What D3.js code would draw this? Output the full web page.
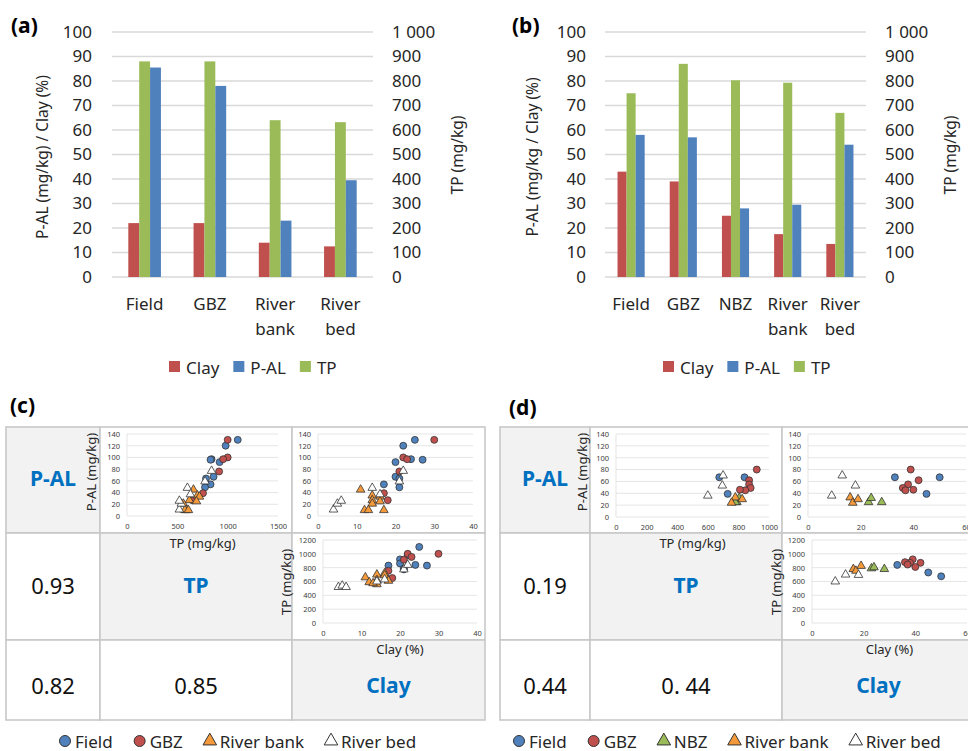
<!DOCTYPE html>
<html>
<head>
<meta charset="utf-8">
<script src="https://cdn.jsdelivr.net/npm/d3@7"></script>
<style>
  body { margin: 0; background: #fff; }
  svg { font-family: "Noto Sans", "Open Sans", sans-serif; }
</style>
</head>
<body>
<svg id="chart" width="968" height="751"></svg>
<script>
// Données des histogrammes (a) et (b)
const categoriesA = ["Field", "GBZ", "River bank", "River bed"];
const clayA = [22, 22, 14, 12.5];
const palA = [85.5, 78, 23, 39.5];
const tpA = [880, 880, 640, 632];

const categoriesB = ["Field", "GBZ", "NBZ", "River bank", "River bed"];
const clayB = [43, 39, 25, 17.5, 13.5];
const palB = [58, 57, 28, 29.5, 54];
const tpB = [750, 870, 803, 793, 670];

const leftTicks = [0, 10, 20, 30, 40, 50, 60, 70, 80, 90, 100];
const tpTicks = [0, 100, 200, 300, 400, 500, 600, 700, 800, 900, 1000];
const tpTickLabels = ["0", "100", "200", "300", "400", "500", "600", "700", "800", "900", "1 000"];

// Nuages de points : [Clay (%), TP (mg/kg), P-AL (mg/kg)]
const fieldC = [[25, 1100, 130], [22, 980, 120], [24, 840, 97], [27, 830, 96], [20, 920, 92],
                [20, 860, 67], [21, 785, 64], [17, 830, 54], [21, 775, 49]];
const gbzC = [[30, 1000, 130], [22, 1000, 100], [23, 955, 97], [21, 915, 76], [17, 755, 39], [18, 650, 27]];
const bankC = [[11, 660, 45], [14, 700, 35], [14, 620, 27], [14, 560, 21], [12, 590, 10],
               [13, 575, 10], [16, 720, 33], [16, 690, 25], [17, 610, 10]];
const bedC = [[4, 520, 11], [5, 540, 21], [6, 520, 26], [14, 600, 48], [16, 630, 37], [21, 775, 59], [22, 840, 77]];

const fieldD = [[33, 840, 67], [45, 730, 39], [50, 675, 67]];
const gbzD = [[39, 920, 80], [42, 870, 62], [38, 870, 55], [36, 880, 49], [37, 845, 45], [40, 810, 46]];
const nbzD = [[23, 790, 25], [24, 805, 32], [28, 780, 25]];
const bankD = [[16, 780, 33], [17, 755, 24], [19, 825, 30]];
const bedD = [[9, 600, 36], [13, 700, 70], [18, 695, 53]];

// Coefficients de corrélation affichés
const corrC = ["0.93", "0.82", "0.85"];
const corrD = ["0.19", "0.44", "0. 44"];

const palTicks = [0, 20, 40, 60, 80, 100, 120, 140];
const tpScatterTicks = [0, 200, 400, 600, 800, 1000, 1200];

const colors = { "Clay": "#c0504d", "P-AL": "#4f81bd", "TP": "#9bbb59" };
const barOrder = ["Clay", "TP", "P-AL"];
const legendOrder = ["Clay", "P-AL", "TP"];
const textColor = "#262626";

const svg = d3.select("#chart");

// Histogramme à deux axes
function drawBars(cfg) {
  const g = svg.append("g");
  const x = d3.scaleBand().domain(cfg.cats).range([cfg.left, cfg.right])
    .paddingInner(cfg.pad).paddingOuter(cfg.pad / 2);
  const xs = d3.scaleBand().domain(barOrder).range([0, x.bandwidth()]);
  const y = d3.scaleLinear().domain([0, 100]).range([277, 32]);
  const y2 = d3.scaleLinear().domain([0, 1000]).range([277, 32]);

  g.append("g").selectAll("line").data(leftTicks).join("line")
    .attr("x1", cfg.left).attr("x2", cfg.right)
    .attr("y1", d => y(d)).attr("y2", d => y(d))
    .attr("stroke", "#d9d9d9").attr("stroke-width", 1.3);

  const rows = [];
  cfg.cats.forEach((c, i) => {
    rows.push({ cat: c, s: "Clay", v: y(cfg.clay[i]) });
    rows.push({ cat: c, s: "TP", v: y2(cfg.tp[i]) });
    rows.push({ cat: c, s: "P-AL", v: y(cfg.pal[i]) });
  });
  g.append("g").selectAll("rect").data(rows).join("rect")
    .attr("x", d => x(d.cat) + xs(d.s))
    .attr("width", xs.bandwidth())
    .attr("y", d => d.v)
    .attr("height", d => y(0) - d.v)
    .attr("fill", d => colors[d.s]);

  const axL = g.append("g").attr("transform", "translate(" + cfg.left + ",0)")
    .call(d3.axisLeft(y).tickValues(leftTicks).tickSize(0).tickPadding(cfg.left - cfg.labelL));
  axL.select(".domain").remove();
  axL.attr("font-family", null).attr("font-size", 17).attr("color", textColor);

  const axR = g.append("g").attr("transform", "translate(" + cfg.right + ",0)")
    .call(d3.axisRight(y2).tickValues(tpTicks).tickFormat((d, i) => tpTickLabels[i])
      .tickSize(0).tickPadding(cfg.labelR - cfg.right));
  axR.select(".domain").remove();
  axR.attr("font-family", null).attr("font-size", 17).attr("color", textColor);

  // libellés des catégories (sur deux lignes si besoin)
  cfg.cats.forEach(c => {
    c.split(" ").forEach((w, k) => {
      g.append("text").attr("x", x(c) + x.bandwidth() / 2).attr("y", 303 + k * 25)
        .attr("text-anchor", "middle").attr("dominant-baseline", "central")
        .attr("font-size", 17).attr("fill", textColor).text(w);
    });
  });

  g.append("text").attr("transform", "translate(" + cfg.titleL + ",157) rotate(-90)")
    .attr("text-anchor", "middle").attr("dominant-baseline", "central")
    .attr("font-size", 15.5).attr("fill", textColor).text(cfg.leftTitle);
  g.append("text").attr("transform", "translate(" + cfg.titleR + ",155) rotate(-90)")
    .attr("text-anchor", "middle").attr("dominant-baseline", "central")
    .attr("font-size", 15.5).attr("fill", textColor).text("TP (mg/kg)");

  g.append("text").attr("x", cfg.tagX).attr("y", 25).attr("dominant-baseline", "central")
    .attr("font-size", 21).attr("font-weight", "bold").attr("fill", "#000").text(cfg.tag);

  let lx = cfg.legendX;
  legendOrder.forEach(s => {
    g.append("rect").attr("x", lx).attr("y", 361).attr("width", 11).attr("height", 11).attr("fill", colors[s]);
    const t = g.append("text").attr("x", lx + 17).attr("y", 367).attr("dominant-baseline", "central")
      .attr("font-size", 17).attr("fill", textColor).text(s);
    lx += 17 + t.node().getComputedTextLength() + 14;
  });
}

drawBars({ cats: categoriesA, clay: clayA, pal: palA, tp: tpA, left: 112, right: 373, pad: 0.5,
  labelL: 92, labelR: 392, titleL: 42, titleR: 457, leftTitle: "P-AL (mg/kg) / Clay (%)",
  tag: "(a)", tagX: 11, legendX: 169 });
drawBars({ cats: categoriesB, clay: clayB, pal: palB, tp: tpB, left: 605, right: 866, pad: 0.48,
  labelL: 586, labelR: 885, titleL: 532, titleR: 950, leftTitle: "P-AL (mg/kg / Clay (%)",
  tag: "(b)", tagX: 512, legendX: 663 });

// Matrice de corrélation
const blue = "#0070c0";
const circleD = d3.symbol(d3.symbolCircle, 38)();
const triD = d3.symbol(d3.symbolTriangle, 32)();

function drawTable(cols, rows) {
  const g = svg.append("g");
  for (let r = 0; r < 3; r++) {
    for (let c = 0; c < 3; c++) {
      g.append("rect").attr("x", cols[c]).attr("y", rows[r])
        .attr("width", cols[c + 1] - cols[c]).attr("height", rows[r + 1] - rows[r])
        .attr("fill", r === c ? "#f2f2f2" : "#fff")
        .attr("stroke", "#c8c8c8").attr("stroke-width", 1.6);
    }
  }
}

function drawScatter(cfg, groups) {
  const g = svg.append("g");
  const x = d3.scaleLinear().domain(cfg.xDom).range(cfg.xRange);
  const y = d3.scaleLinear().domain(cfg.yDom).range(cfg.yRange);

  g.append("g").selectAll("line").data(cfg.yTicks).join("line")
    .attr("x1", cfg.xRange[0]).attr("x2", cfg.xRange[1])
    .attr("y1", d => y(d)).attr("y2", d => y(d))
    .attr("stroke", "#dedede").attr("stroke-width", 0.8);
  g.append("line").attr("x1", cfg.xRange[0]).attr("x2", cfg.xRange[0])
    .attr("y1", cfg.yRange[0]).attr("y2", cfg.yRange[1])
    .attr("stroke", "#dedede").attr("stroke-width", 0.8);

  const ax = g.append("g").attr("transform", "translate(0," + cfg.yRange[0] + ")")
    .call(d3.axisBottom(x).tickValues(cfg.xTicks).tickFormat(d3.format("d")).tickSize(0).tickPadding(8));
  ax.select(".domain").remove();
  ax.attr("font-family", null).attr("font-size", 7.5).attr("color", "#404040");

  const ay = g.append("g").attr("transform", "translate(" + cfg.xRange[0] + ",0)")
    .call(d3.axisLeft(y).tickValues(cfg.yTicks).tickFormat(d3.format("d")).tickSize(0).tickPadding(7));
  ay.select(".domain").remove();
  ay.attr("font-family", null).attr("font-size", 7.5).attr("color", "#404040");

  groups.forEach(gr => {
    g.append("g").selectAll("path").data(gr.data).join("path")
      .attr("transform", d => "translate(" + x(d[cfg.xi]) + "," + y(d[cfg.yi]) + ")")
      .attr("d", gr.shape === "circle" ? circleD : triD)
      .attr("fill", gr.color).attr("stroke", "#333").attr("stroke-width", 0.8);
  });

  if (cfg.xTitle) {
    g.append("text").attr("x", (cfg.xRange[0] + cfg.xRange[1]) / 2).attr("y", cfg.xTitleY)
      .attr("text-anchor", "middle").attr("dominant-baseline", "central")
      .attr("font-size", 13).attr("fill", textColor).text(cfg.xTitle);
  }
  if (cfg.yTitle) {
    g.append("text").attr("transform", "translate(" + cfg.yTitleX + "," + cfg.yTitleY + ") rotate(-90)")
      .attr("text-anchor", "middle").attr("dominant-baseline", "central")
      .attr("font-size", 13).attr("fill", textColor).text(cfg.yTitle);
  }
}

function cellText(x, y, txt, isLabel) {
  svg.append("text").attr("x", x).attr("y", y)
    .attr("text-anchor", "middle").attr("dominant-baseline", "central")
    .attr("font-size", isLabel ? 21 : 22).attr("font-weight", isLabel ? "bold" : "normal")
    .attr("fill", isLabel ? blue : "#111").text(txt);
}

function drawLegend(x0, items) {
  let lx = x0;
  items.forEach(it => {
    svg.append("path").attr("transform", "translate(" + lx + ",741)")
      .attr("d", d3.symbol(it.shape === "circle" ? d3.symbolCircle : d3.symbolTriangle, it.shape === "circle" ? 95 : 80)())
      .attr("fill", it.color).attr("stroke", "#333").attr("stroke-width", 1);
    const t = svg.append("text").attr("x", lx + 10).attr("y", 741).attr("dominant-baseline", "central")
      .attr("font-size", 17).attr("fill", textColor).text(it.name);
    lx += 10 + t.node().getComputedTextLength() + 27;
  });
}

const groupsC = [
  { name: "Field", data: fieldC, color: "#4f81bd", shape: "circle" },
  { name: "GBZ", data: gbzC, color: "#c0504d", shape: "circle" },
  { name: "River bank", data: bankC, color: "#f59a3a", shape: "tri" },
  { name: "River bed", data: bedC, color: "#fff", shape: "tri" }
];
const groupsD = [
  { name: "Field", data: fieldD, color: "#4f81bd", shape: "circle" },
  { name: "GBZ", data: gbzD, color: "#c0504d", shape: "circle" },
  { name: "NBZ", data: nbzD, color: "#9bbb59", shape: "tri" },
  { name: "River bank", data: bankD, color: "#f59a3a", shape: "tri" },
  { name: "River bed", data: bedD, color: "#fff", shape: "tri" }
];

// (c)
const colsC = [6, 100, 292, 485];
const colsD = [500, 590, 782, 975];
const rowsT = [427, 533, 640, 720];
drawTable(colsC, rowsT);
drawTable(colsD, rowsT);

drawScatter({ xDom: [0, 1500], xRange: [127, 278], xTicks: [0, 500, 1000, 1500], xi: 1,
  yDom: [0, 140], yRange: [516, 434], yTicks: palTicks, yi: 2,
  xTitle: "TP (mg/kg)", xTitleY: 543, yTitle: "P-AL (mg/kg)", yTitleX: 91, yTitleY: 472 }, groupsC);
drawScatter({ xDom: [0, 40], xRange: [318, 473], xTicks: [0, 10, 20, 30, 40], xi: 0,
  yDom: [0, 140], yRange: [516, 434], yTicks: palTicks, yi: 2 }, groupsC);
drawScatter({ xDom: [0, 40], xRange: [323, 477], xTicks: [0, 10, 20, 30, 40], xi: 0,
  yDom: [0, 1200], yRange: [623, 540], yTicks: tpScatterTicks, yi: 1,
  xTitle: "Clay (%)", xTitleY: 649, yTitle: "TP (mg/kg)", yTitleX: 286, yTitleY: 582 }, groupsC);

// (d)
drawScatter({ xDom: [0, 1000], xRange: [616, 769], xTicks: [0, 200, 400, 600, 800, 1000], xi: 1,
  yDom: [0, 140], yRange: [517, 434], yTicks: palTicks, yi: 2,
  xTitle: "TP (mg/kg)", xTitleY: 543, yTitle: "P-AL (mg/kg)", yTitleX: 582, yTitleY: 472 }, groupsD);
drawScatter({ xDom: [0, 60], xRange: [808, 966], xTicks: [0, 20, 40, 60], xi: 0,
  yDom: [0, 140], yRange: [517, 434], yTicks: palTicks, yi: 2 }, groupsD);
drawScatter({ xDom: [0, 60], xRange: [812, 967], xTicks: [0, 20, 40, 60], xi: 0,
  yDom: [0, 1200], yRange: [623, 540], yTicks: tpScatterTicks, yi: 1,
  xTitle: "Clay (%)", xTitleY: 649, yTitle: "TP (mg/kg)", yTitleX: 776, yTitleY: 582 }, groupsD);

// libellés des cellules
[[colsC, corrC], [colsD, corrD]].forEach(([cols, corr]) => {
  const cx = [0, 1, 2].map(i => (cols[i] + cols[i + 1]) / 2);
  cellText(cx[0], 478, "P-AL", true);
  cellText(cx[1], 585, "TP", true);
  cellText(cx[2], 685, "Clay", true);
  cellText(cx[0], 585, corr[0], false);
  cellText(cx[0], 685, corr[1], false);
  cellText(cx[1], 685, corr[2], false);
});

svg.append("text").attr("x", 10).attr("y", 405).attr("dominant-baseline", "central")
  .attr("font-size", 21).attr("font-weight", "bold").text("(c)");
svg.append("text").attr("x", 509).attr("y", 407).attr("dominant-baseline", "central")
  .attr("font-size", 21).attr("font-weight", "bold").text("(d)");

drawLegend(65, groupsC);
drawLegend(519, groupsD);
</script>
</body>
</html>
